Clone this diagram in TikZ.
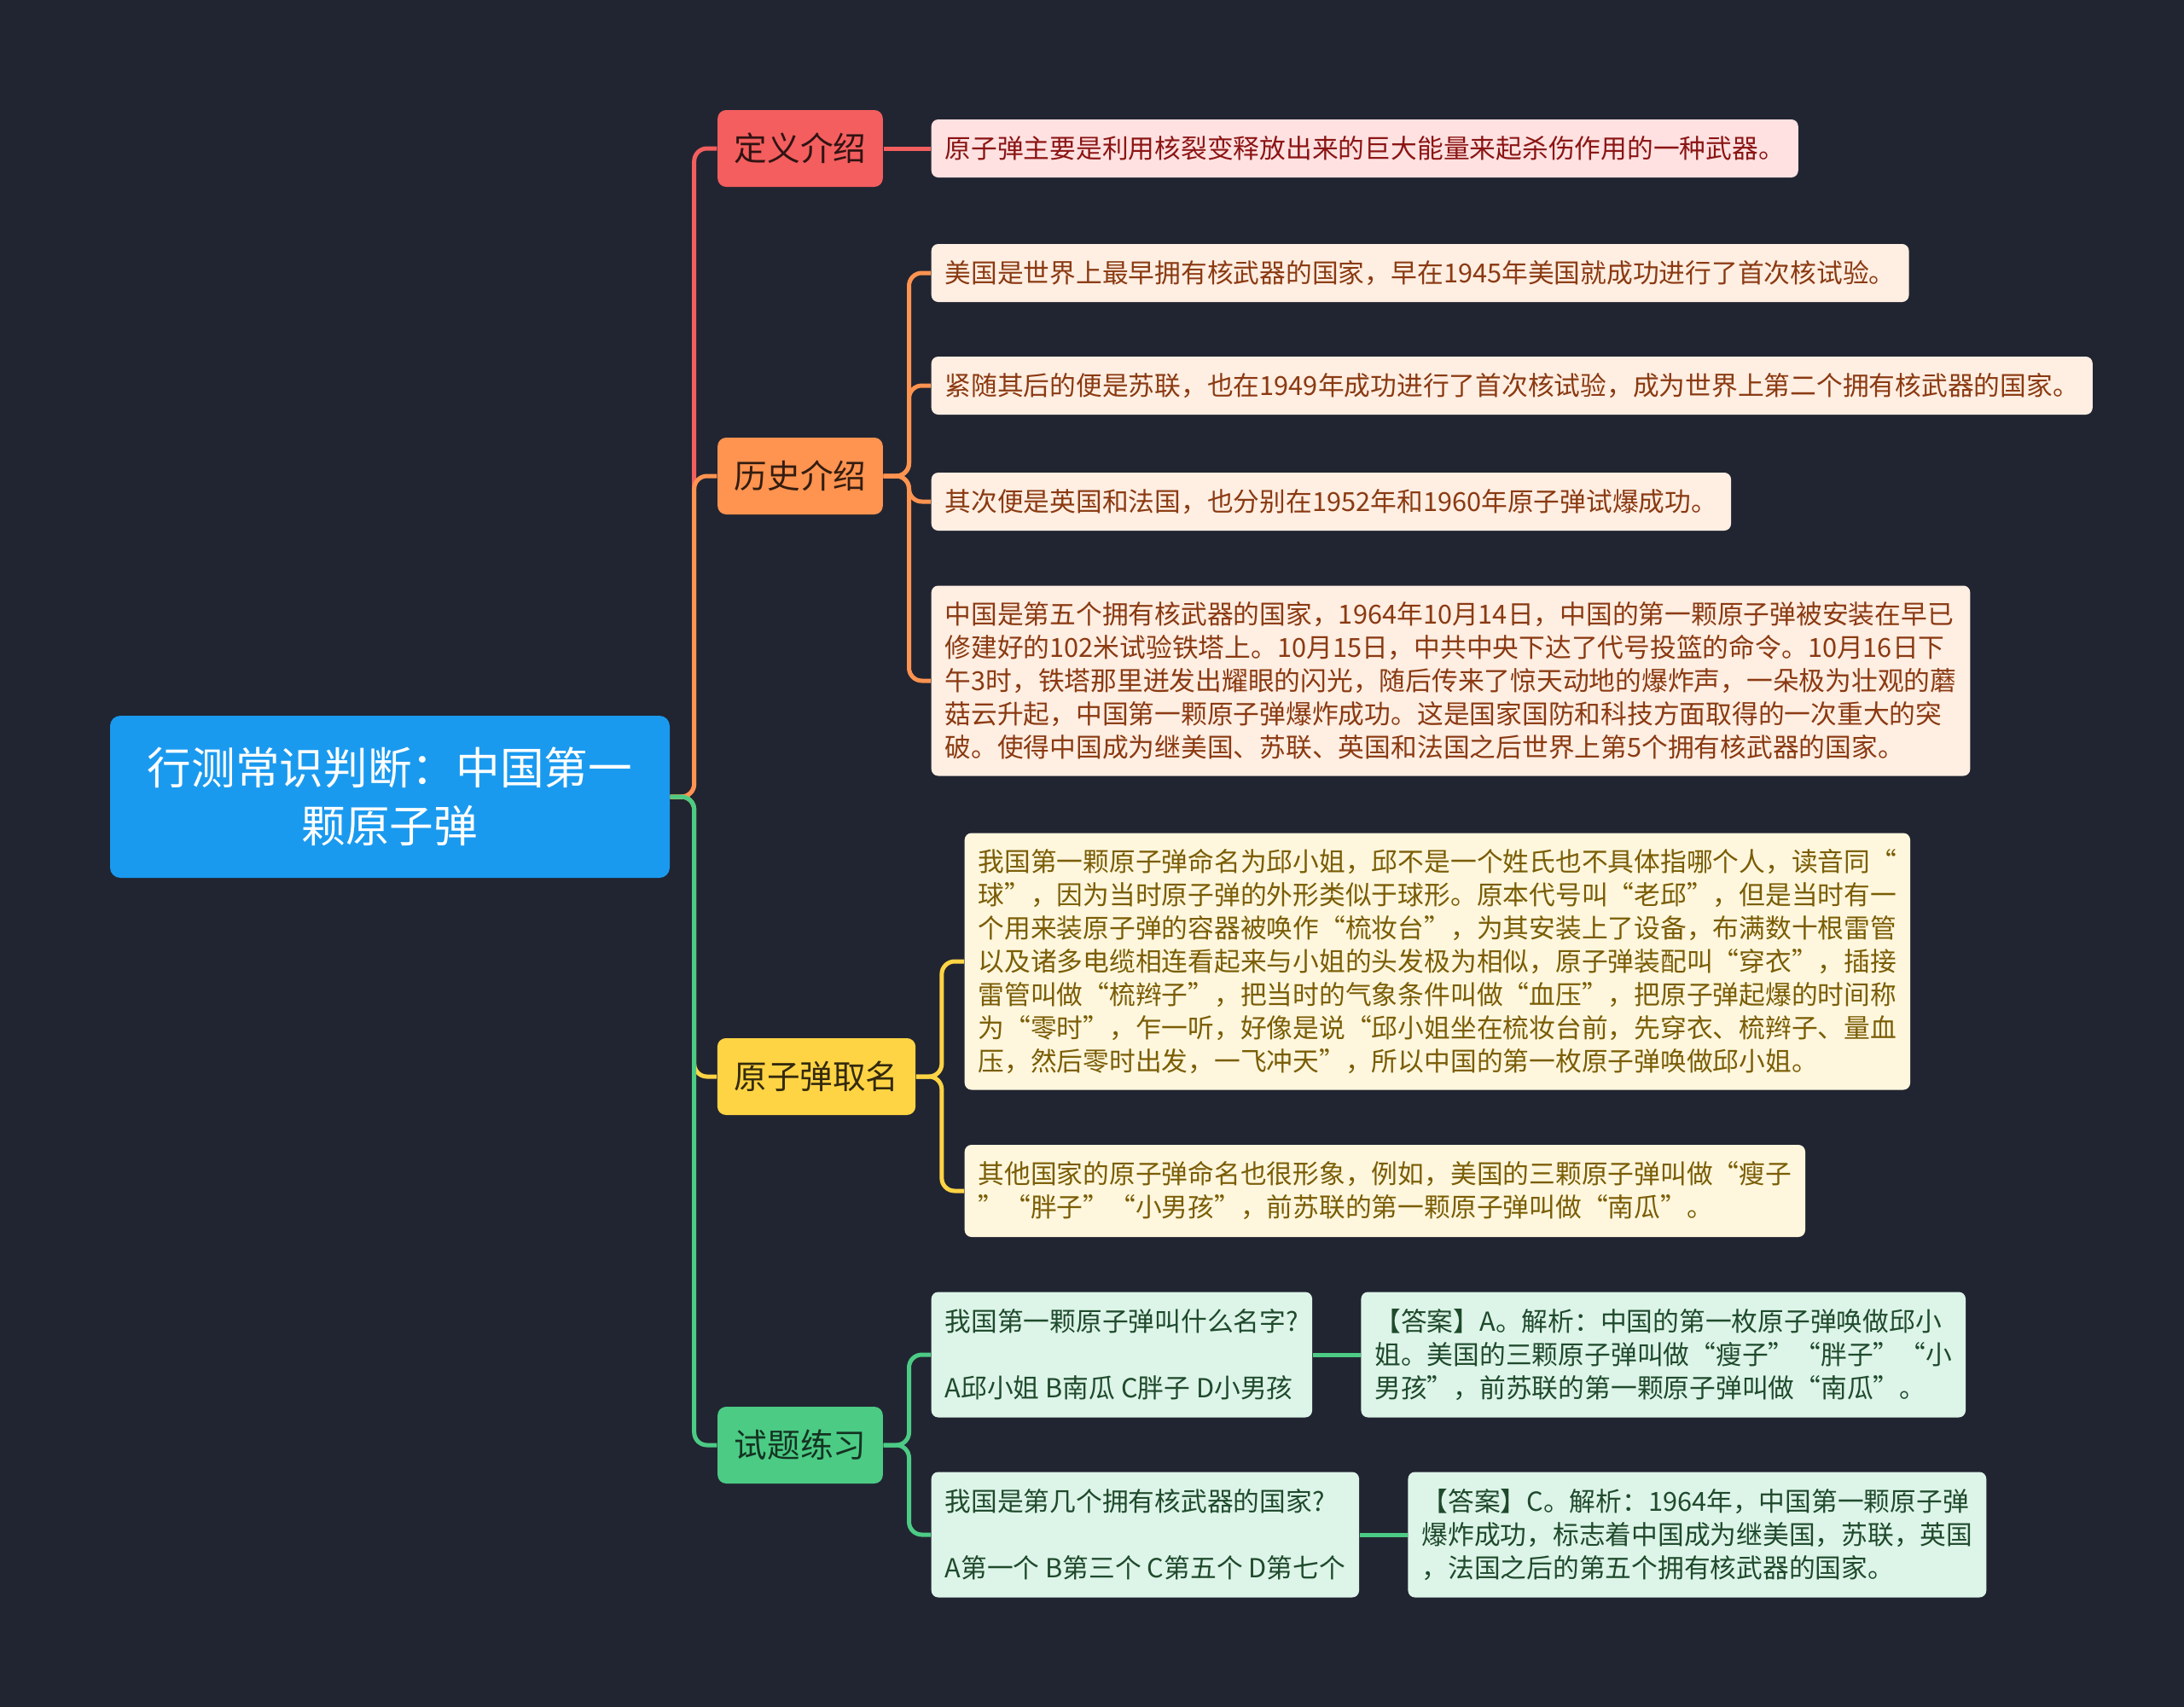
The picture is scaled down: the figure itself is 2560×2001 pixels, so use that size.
\documentclass[tikz,border=0pt]{standalone}
\usepackage{fontspec}
\setmainfont{Noto Sans CJK SC}
\usepackage{xcolor}
\usetikzlibrary{positioning}
\definecolor{bgdark}{HTML}{212531}
\definecolor{rootblue}{HTML}{1A9AEF}
\definecolor{defred}{HTML}{F45E5E}
\definecolor{historange}{HTML}{FF9350}
\definecolor{nameyellow}{HTML}{FFD444}
\definecolor{testgreen}{HTML}{4CCB85}
\definecolor{defpale}{HTML}{FFE1E1}
\definecolor{histpale}{HTML}{FFEEE2}
\definecolor{namepale}{HTML}{FFF7DD}
\definecolor{testpale}{HTML}{DDF5E9}
\definecolor{definks}{HTML}{8B1414}
\definecolor{histinks}{HTML}{8A3A12}
\definecolor{nameinks}{HTML}{7A5D06}
\definecolor{testinks}{HTML}{1F4A2C}

\begin{document}
\begin{tikzpicture}[
    x=0.1mm, y=-0.1mm,
    node distance=5.6mm,
    rootbox/.style={fill=rootblue, text=white, rounded corners=0.12cm, text width=5.7cm, inner xsep=0.43cm, align=center, minimum height=1.9cm, font=\fontsize{14.7}{19.5}\selectfont},
    topic/.style={rounded corners=0.1cm, inner xsep=0.195cm, minimum height=0.9cm, font=\fontsize{11}{13}\selectfont},
    deft/.style={topic, fill=defred, text=black!80!defred},
    histt/.style={topic, fill=historange, text=black!80!historange},
    namet/.style={topic, fill=nameyellow, text=black!80!nameyellow},
    testt/.style={topic, fill=testgreen, text=black!75!testgreen},
    leaf/.style={rounded corners=0.08cm, inner xsep=0.16cm, align=left, anchor=west, minimum height=0.68cm, font=\fontsize{8.75}{11.1}\selectfont},
    defl/.style={leaf, fill=defpale, text=definks},
    histl/.style={leaf, fill=histpale, text=histinks},
    namel/.style={leaf, fill=namepale, text=nameinks},
    testl/.style={leaf, fill=testpale, text=testinks, minimum height=1.47cm},
    link/.style={line width=0.05cm, rounded corners=0.15cm},
  ]
  \fill[bgdark] (0,0) rectangle (2560,2001);

  % root and main topics
  \node[rootbox] (root) at (457,934) {行测常识判断：中国第一\\颗原子弹};
  \node[deft] (def) at (938,174) {定义介绍};
  \node[histt] (hist) at (938,558) {历史介绍};
  \node[namet] (name) at (957,1262) {原子弹取名};
  \node[testt] (test) at (938,1694) {试题练习};

  % 定义介绍
  \node[defl] (d1) at (1091,174) {原子弹主要是利用核裂变释放出来的巨大能量来起杀伤作用的一种武器。};

  % 历史介绍
  \node[histl] (h1) at (1091,320) {美国是世界上最早拥有核武器的国家，早在1945年美国就成功进行了首次核试验。};
  \node[histl] (h2) at (1091,452) {紧随其后的便是苏联，也在1949年成功进行了首次核试验，成为世界上第二个拥有核武器的国家。};
  \node[histl] (h3) at (1091,588) {其次便是英国和法国，也分别在1952年和1960年原子弹试爆成功。};
  \node[histl, minimum height=2.23cm] (h4) at (1091,798) {中国是第五个拥有核武器的国家，1964年10月14日，中国的第一颗原子弹被安装在早已\\修建好的102米试验铁塔上。10月15日，中共中央下达了代号投篮的命令。10月16日下\\午3时，铁塔那里迸发出耀眼的闪光，随后传来了惊天动地的爆炸声，一朵极为壮观的蘑\\菇云升起，中国第一颗原子弹爆炸成功。这是国家国防和科技方面取得的一次重大的突\\破。使得中国成为继美国、苏联、英国和法国之后世界上第5个拥有核武器的国家。};

  % 原子弹取名
  \node[namel, minimum height=3.01cm] (n1) at (1130,1127) {我国第一颗原子弹命名为邱小姐，邱不是一个姓氏也不具体指哪个人，读音同“\\球”，因为当时原子弹的外形类似于球形。原本代号叫“老邱”，但是当时有一\\个用来装原子弹的容器被唤作“梳妆台”，为其安装上了设备，布满数十根雷管\\以及诸多电缆相连看起来与小姐的头发极为相似，原子弹装配叫“穿衣”，插接\\雷管叫做“梳辫子”，把当时的气象条件叫做“血压”，把原子弹起爆的时间称\\为“零时”，乍一听，好像是说“邱小姐坐在梳妆台前，先穿衣、梳辫子、量血\\压，然后零时出发，一飞冲天”，所以中国的第一枚原子弹唤做邱小姐。};
  \node[namel, minimum height=1.08cm] (n2) at (1130,1396) {其他国家的原子弹命名也很形象，例如，美国的三颗原子弹叫做“瘦子\\”“胖子”“小男孩”，前苏联的第一颗原子弹叫做“南瓜”。};

  % 试题练习
  \node[testl] (q1) at (1091,1588) {我国第一颗原子弹叫什么名字?\\[11.1pt]A邱小姐 B南瓜 C胖子 D小男孩};
  \node[testl, right=of q1] (a1) {【答案】A。解析：中国的第一枚原子弹唤做邱小\\姐。美国的三颗原子弹叫做“瘦子”“胖子”“小\\男孩”，前苏联的第一颗原子弹叫做“南瓜”。};
  \node[testl] (q2) at (1091,1799) {我国是第几个拥有核武器的国家?\\[11.1pt]A第一个 B第三个 C第五个 D第七个};
  \node[testl, right=of q2] (a2) {【答案】C。解析：1964年，中国第一颗原子弹\\爆炸成功，标志着中国成为继美国，苏联，英国\\，法国之后的第五个拥有核武器的国家。};

  % connectors
  \foreach \b/\c in {def/defred,hist/historange,name/nameyellow,test/testgreen}
    \draw[link, \c] (root.east) -- ++(28,0) |- (\b.west);
  \draw[link, defred] (def) -- (d1);
  \foreach \b in {h1,h2,h3,h4}
    \draw[link, historange] (hist.east) -- ++(30,0) |- (\b.west);
  \foreach \b in {n1,n2}
    \draw[link, nameyellow] (name.east) -- ++(30,0) |- (\b.west);
  \foreach \b in {q1,q2}
    \draw[link, testgreen] (test.east) -- ++(30,0) |- (\b.west);
  \draw[link, testgreen] (q1) -- (a1);
  \draw[link, testgreen] (q2) -- (a2);
\end{tikzpicture}
\end{document}
